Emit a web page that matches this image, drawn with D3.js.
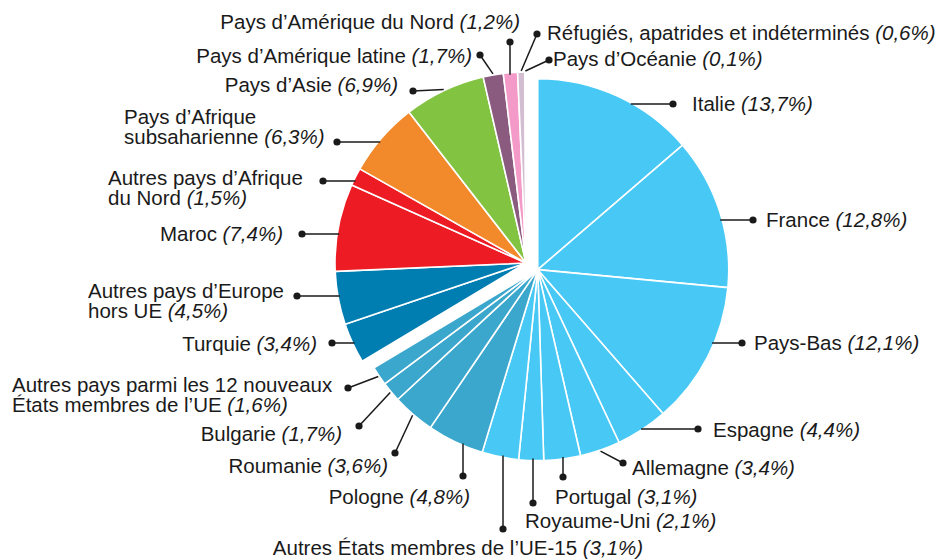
<!DOCTYPE html>
<html><head><meta charset="utf-8">
<script src="https://cdn.jsdelivr.net/npm/d3@7"></script>
<style>
body{margin:0;background:#fff}
svg{display:block}
</style></head><body>
<script>
// ---- data ----
const categories = [
  "Italie","France","Pays-Bas","Espagne","Allemagne","Portugal","Royaume-Uni",
  "Autres États membres de l’UE-15","Pologne","Roumanie","Bulgarie",
  "Autres pays parmi les 12 nouveaux\nÉtats membres de l’UE",
  "Turquie","Autres pays d’Europe\nhors UE","Maroc","Autres pays d’Afrique\ndu Nord",
  "Pays d’Afrique\nsubsaharienne","Pays d’Asie","Pays d’Amérique latine",
  "Pays d’Amérique du Nord","Réfugiés, apatrides et indéterminés","Pays d’Océanie"
];
const values = [13.7,12.8,12.1,4.4,3.4,3.1,2.1,3.1,4.8,3.6,1.7,1.6,3.4,4.5,7.4,1.5,6.3,6.9,1.7,1.2,0.6,0.1];
const groups = ["ue15","ue15","ue15","ue15","ue15","ue15","ue15","ue15","ue12","ue12","ue12","ue12",
  "europe","europe","afnord","afnord","afsub","asie","amlat","amnord","refug","oceanie"];
const groupNames = ["ue15","ue12","europe","afnord","afsub","asie","amlat","amnord","refug","oceanie"];
const groupColors = ["#47c8f5","#3ba7cd","#007db1","#ed1c24","#f2892a","#82c341","#8a5a7f","#f49ac8","#d3bdd0","#c9c9d4"];
const explodedGroups = ["ue15","ue12"];

// ---- layout (annotation positions) ----
const W = 939, H = 560, R = 191, base = [526, 263], explode = 13.5;
const FONT = "Liberation Sans, Arial, sans-serif";
const FS = 20.5, LINE = 20;
const labelLayout = [
  {dot:[673,104], mode:"h", t:[692,111], a:"start"},
  {dot:[753,220], mode:"h", t:[766,227], a:"start"},
  {dot:[742,343], mode:"h", t:[754,350], a:"start"},
  {dot:[698,429], mode:"h", t:[713,437], a:"start"},
  {dot:[623,463], mode:"m", t:[632,475], a:"start"},
  {dot:[563,477], mode:"v", t:[555,504], a:"start"},
  {dot:[533,503], mode:"v", t:[525,528], a:"start"},
  {dot:[503,529], mode:"v", t:[458,555], a:"middle"},
  {dot:[463,476], mode:"v", t:[470,504], a:"end"},
  {dot:[395,453], mode:"m", t:[388,473], a:"end"},
  {dot:[359,426], mode:"m", t:[342,441], a:"end"},
  {dot:[348,388], mode:"m", t:[12,392], a:"start"},
  {dot:[332,343], mode:"h", t:[317,351], a:"end"},
  {dot:[297,296], mode:"h", t:[88,298], a:"start"},
  {dot:[302,234], mode:"h", t:[283,241], a:"end"},
  {dot:[323,181], mode:"h", t:[108,185], a:"start"},
  {dot:[337,142], mode:"h", t:[124,124], a:"start"},
  {dot:[413,91],  mode:"m", t:[398,92], a:"end"},
  {dot:[480,55],  mode:"m", t:[472,63], a:"end"},
  {dot:[510,42],  mode:"v", t:[520,29], a:"end"},
  {dot:[537,34],  mode:"m", t:[547,40], a:"start"},
  {dot:[549,60],  mode:"m", t:[553,66], a:"start"}
];

const fmt = v => "(" + d3.format(".1f")(v).replace(".", ",") + "%)";
const color = d3.scaleOrdinal().domain(groupNames).range(groupColors);

const svg = d3.select("body").append("svg").attr("width", W).attr("height", H);

const pie = d3.pie().sort(null).value(d => d.v).startAngle(0).endAngle(2*Math.PI);
const data = values.map((v,i) => ({v, name:categories[i], g:groups[i], i}));
const arcs = pie(data);
const arc = d3.arc().innerRadius(0).outerRadius(R);

const exArcs = arcs.filter(a => explodedGroups.includes(a.data.g));
const exMid = (d3.min(exArcs, a => a.startAngle) + d3.max(exArcs, a => a.endAngle)) / 2;
const exOff = [explode*Math.sin(exMid), -explode*Math.cos(exMid)];
const centerOf = a => explodedGroups.includes(a.data.g) ? [base[0]+exOff[0], base[1]+exOff[1]] : base;

svg.append("g").selectAll("path").data(arcs).join("path")
  .attr("transform", a => `translate(${centerOf(a)[0]},${centerOf(a)[1]})`)
  .attr("d", arc)
  .attr("fill", a => color(a.data.g))
  .attr("stroke", "#fff").attr("stroke-width", 1.6).attr("stroke-linejoin","round");

const lg = svg.append("g");
arcs.forEach((a, i) => {
  const L = labelLayout[i];
  const c = centerOf(a);
  let s;
  if (L.mode === "h") {
    const dy = L.dot[1] - c[1];
    const dx = Math.sqrt(Math.max(0, R*R - dy*dy)) - 2;
    s = [c[0] + (L.dot[0] > c[0] ? dx : -dx), L.dot[1]];
  } else if (L.mode === "v") {
    const dx = L.dot[0] - c[0];
    const dy = Math.sqrt(Math.max(0, R*R - dx*dx)) - 2;
    s = [L.dot[0], c[1] + (L.dot[1] > c[1] ? dy : -dy)];
  } else {
    const m = (a.startAngle + a.endAngle) / 2;
    s = [c[0] + (R+1)*Math.sin(m), c[1] - (R+1)*Math.cos(m)];
  }
  lg.append("line").attr("x1", s[0]).attr("y1", s[1]).attr("x2", L.dot[0]).attr("y2", L.dot[1])
    .attr("stroke", "#1a1a1a").attr("stroke-width", 1.5);
  lg.append("circle").attr("cx", L.dot[0]).attr("cy", L.dot[1]).attr("r", 3.6).attr("fill", "#1a1a1a");

  const lines = a.data.name.split("\n");
  const t = lg.append("text").attr("x", L.t[0]).attr("y", L.t[1]).attr("text-anchor", L.a)
    .attr("font-family", FONT).attr("font-size", FS).attr("fill", "#1a1a1a");
  lines.forEach((ln, k) => {
    t.append("tspan").attr("x", L.t[0]).attr("dy", k === 0 ? 0 : LINE).text(ln + (k === lines.length-1 ? " " : ""));
    if (k === lines.length-1) {
      t.append("tspan").attr("font-style", "italic").text(fmt(a.data.v));
    }
  });
});
</script>
</body></html>
